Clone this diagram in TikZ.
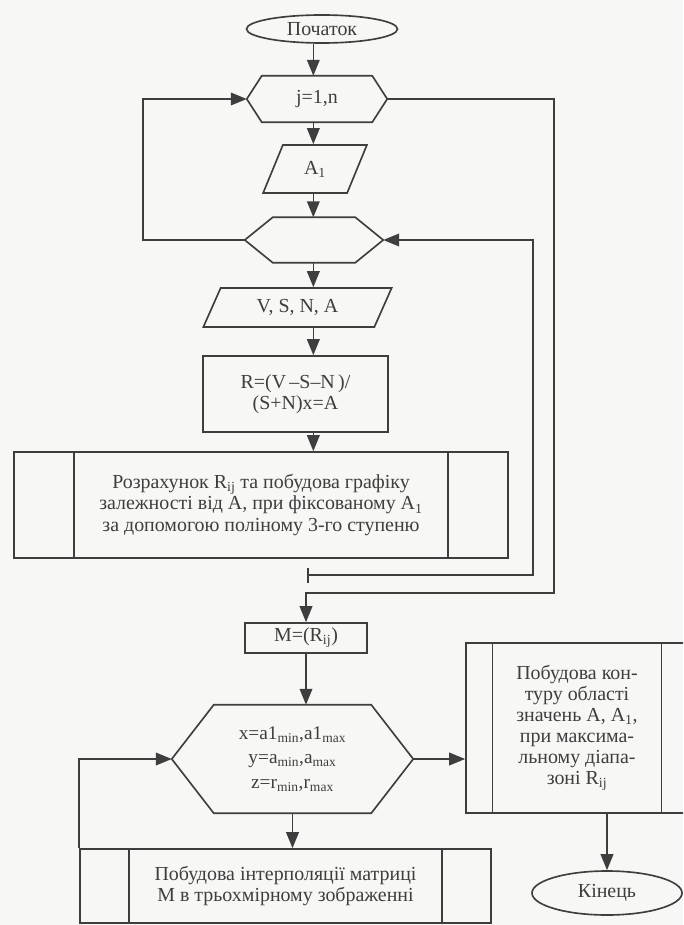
\documentclass[tikz,border=0pt]{standalone}
\usepackage{fontspec}
\setmainfont{Liberation Serif}
\usetikzlibrary{positioning, arrows.meta, shapes.geometric, calc}
\definecolor{ink}{HTML}{3E3E3E}
\definecolor{paper}{HTML}{F7F7F5}

\begin{document}
\begin{tikzpicture}[
      every node/.style={font=\fontsize{17}{18}\selectfont, text=ink},
      wire/.style={draw=ink, line width=1.4pt},
      arr/.style={wire, -{Triangle[length=0.48cm, width=0.38cm]}},
      barr/.style={wire, {Bar[width=0.45cm]}-{Triangle[length=0.48cm, width=0.38cm]}},
      term/.style={wire, ellipse, inner sep=0pt},
      block/.style={wire, rectangle, inner sep=0pt, align=center},
      hexbox/.style={rectangle, inner sep=0pt, align=center},
      iobox/.style={wire, trapezium, trapezium stretches, inner sep=0pt},
      subproc/.style={block, path picture={
          \draw[wire] ([xshift=#1]path picture bounding box.north west) -- ([xshift=#1]path picture bounding box.south west);
          \draw[wire] ([xshift=-#1]path picture bounding box.north east) -- ([xshift=-#1]path picture bounding box.south east);}},
    ]
    \useasboundingbox (0,0) rectangle (20.49,-27.75);
    \clip (0,0) rectangle (20.49,-27.75);
    \fill[paper] (0,0) rectangle (20.49,-27.75);

    % main column
    \node[term, minimum width=4.53cm, minimum height=0.84cm] (start) at (9.66,-0.87) {Початок};
    \node[hexbox, minimum width=4.2cm, minimum height=1.38cm] (h1) at (9.51,-2.97) {j=1,n};
    \node[iobox, trapezium left angle=67.4, trapezium right angle=112.6,
          minimum width=3.12cm, minimum height=1.44cm] (a1) at (9.45,-5.07) {A\textsubscript{1}};
    \node[hexbox, minimum width=4.14cm, minimum height=1.35cm] (h2) at (9.42,-7.2) {};
    \node[iobox, trapezium left angle=60.6, trapezium right angle=119.4,
          minimum width=5.67cm, minimum height=1.17cm] (vsna) at (8.925,-9.225) {V, S, N, A};
    \node[block, minimum width=5.55cm, minimum height=2.28cm] (rcalc) at (8.865,-11.82)
      {R=(V\,–S–N\,)/\\(S+N)x=A};
    \node[subproc=1.8cm, minimum width=14.82cm, minimum height=3.18cm] (plot) at (7.83,-15.15)
      {Розрахунок R\textsubscript{ij} та побудова графіку\\
       залежності від A, при фіксованому A\textsubscript{1}\\
       за допомогою поліному 3-го ступеню};
    \node[block, minimum width=3.66cm, minimum height=0.9cm] (mat) at (9.18,-19.14) {M=(R\textsubscript{ij})};
    \node[hexbox, minimum width=7.23cm, minimum height=3.24cm,
          font=\fontsize{16.5}{21}\selectfont] (h3) at (8.775,-22.77)
      {x=a1\textsubscript{min},a1\textsubscript{max}\\
       y=a\textsubscript{min},a\textsubscript{max}\\
       z=r\textsubscript{min},r\textsubscript{max}};
    \node[subproc=0.8cm, minimum width=6.66cm, minimum height=5.1cm] (contour) at (17.31,-21.84)
      {Побудова кон-\\туру області\\значень A, A\textsubscript{1},\\при максима-\\льному діапа-\\зоні R\textsubscript{ij}};
    \node[term, minimum width=4.5cm, minimum height=1.32cm] (end) at (18.21,-26.79) {Кінець};
    \node[subproc=1.47cm, minimum width=12.33cm, minimum height=2.22cm] (interp) at (8.565,-26.58)
      {Побудова інтерполяції матриці\\M в трьохмірному зображенні};

    % hexagon outlines
    \draw[wire] (h1.west) -- ([xshift=0.45cm]h1.north west) -- ([xshift=-0.45cm]h1.north east)
      -- (h1.east) -- ([xshift=-0.45cm]h1.south east) -- ([xshift=0.45cm]h1.south west) -- cycle;
    \draw[wire] (h2.west) -- ([xshift=0.84cm]h2.north west) -- ([xshift=-0.84cm]h2.north east)
      -- (h2.east) -- ([xshift=-0.84cm]h2.south east) -- ([xshift=0.84cm]h2.south west) -- cycle;
    \draw[wire] (h3.west) -- ([xshift=1.26cm]h3.north west) -- ([xshift=-1.26cm]h3.north east)
      -- (h3.east) -- ([xshift=-1.26cm]h3.south east) -- ([xshift=1.26cm]h3.south west) -- cycle;

    % connectors
    \coordinate (ax) at (9.4,0);
    \coordinate (lp) at (4.29,-7.2);
    \coordinate (rp) at (16.62,-17.79);
    \coordinate (tk) at (9.21,-17.25);
    \coordinate (ip) at (15.99,-17.25);
    \draw[arr] (ax |- start.south) -- (ax |- h1.north);
    \draw[arr] (ax |- h1.south) -- (ax |- a1.north);
    \draw[arr] (ax |- a1.south) -- (ax |- h2.north);
    \draw[arr] (ax |- h2.south) -- (ax |- vsna.north);
    \draw[arr] (ax |- vsna.south) -- (ax |- rcalc.north);
    \draw[arr] (ax |- rcalc.south) -- (ax |- plot.north);
    \draw[arr] (h2.west) -- (lp) |- (h1.west);
    \draw[arr] (h1.east) -| (rp) -| (mat.north);
    \draw[barr] (tk) -- (ip) |- (h2.east);
    \draw[arr] (mat.south) -- (mat.south |- h3.north);
    \draw[arr] (h3.east) -- (h3.east -| contour.west);
    \draw[arr] (end.north |- contour.south) -- (end.north);
    \draw[arr] (h3.south) -- (h3.south |- interp.north);
    \draw[arr] (interp.north west) |- (h3.west);
  \end{tikzpicture}
\end{document}
